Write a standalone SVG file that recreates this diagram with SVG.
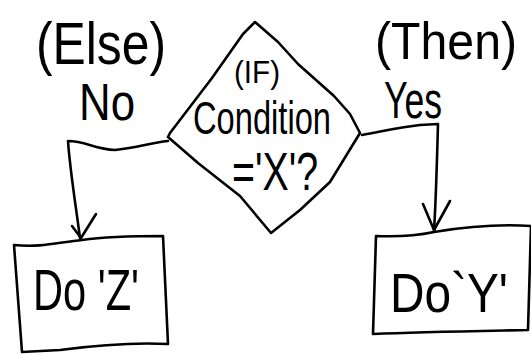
<svg xmlns="http://www.w3.org/2000/svg" width="531" height="355" viewBox="0 0 531 355">
  <style>
    .ink { fill: none; stroke: #000; stroke-width: 2.6; stroke-linecap: round; stroke-linejoin: round; }
    .lbl { font-family: "Liberation Sans", "DejaVu Sans", sans-serif; fill: #000; }
  </style>
  <rect width="531" height="355" fill="#fff"/>

  <!-- decision -->
  <g id="condition">
    <path class="ink" d="M255,22 L243,34 L212,78 L170,133 L168,137 L198,163 L240,196 L271,233 L300,210 L330,182 L360,133 L350,114 L334,96 L298,64 L278,42 Z"/>
    <text class="lbl" x="257" y="83" font-size="32" text-anchor="middle" textLength="46" lengthAdjust="spacingAndGlyphs">(IF)</text>
    <text class="lbl" x="262" y="134" font-size="46" text-anchor="middle" textLength="138" lengthAdjust="spacingAndGlyphs">Condition</text>
    <text class="lbl" x="275" y="190" font-size="54" text-anchor="middle" textLength="86" lengthAdjust="spacingAndGlyphs">='X'?</text>
  </g>

  <!-- branch labels -->
  <g id="else-label">
    <text class="lbl" x="101" y="64" font-size="60" text-anchor="middle" textLength="130" lengthAdjust="spacingAndGlyphs">(Else)</text>
    <text class="lbl" x="107" y="120" font-size="52" text-anchor="middle" textLength="56" lengthAdjust="spacingAndGlyphs">No</text>
  </g>
  <g id="then-label">
    <text class="lbl" x="446" y="59" font-size="52" text-anchor="middle" textLength="142" lengthAdjust="spacingAndGlyphs">(Then)</text>
    <text class="lbl" x="413" y="118" font-size="52" text-anchor="middle" textLength="58" lengthAdjust="spacingAndGlyphs">Yes</text>
  </g>

  <!-- actions -->
  <g id="do-z">
    <path class="ink" d="M14,245 C40,248 60,242 82,240 C110,236 140,236 163,236 L168,344 C130,342 90,346 60,350 L22,352 L14,245 Z"/>
    <text class="lbl" x="86" y="310" font-size="58" text-anchor="middle" textLength="106" lengthAdjust="spacingAndGlyphs">Do 'Z'</text>
  </g>
  <g id="do-y">
    <path class="ink" d="M376,236 C400,237 420,235 434,232 C470,226 500,224 531,226 L528,330 C480,331 420,332 373,334 Z"/>
    <text class="lbl" x="449" y="312" font-size="56" text-anchor="middle" textLength="118" lengthAdjust="spacingAndGlyphs">Do`Y'</text>
  </g>

  <!-- connectors -->
  <g id="connectors">
    <path class="ink" d="M168,141 C150,143 135,148 115,150 C95,149 85,141 68,141 C70,170 75,200 80,238"/>
    <path class="ink" d="M72,226 L81,238 L96,214"/>
    <path class="ink" d="M362,135 C380,132 400,127 420,125 L438,124 C437,160 436,200 434,231"/>
    <path class="ink" d="M423,204 L434,230 L450,201"/>
  </g>
</svg>
